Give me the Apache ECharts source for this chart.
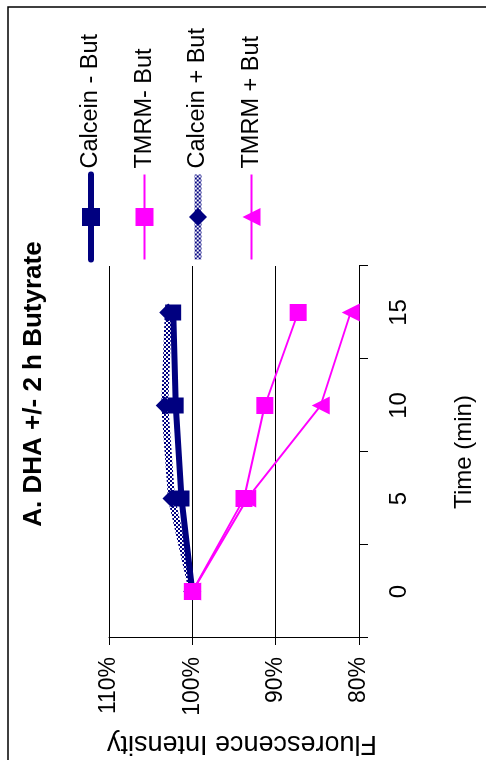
<!DOCTYPE html>
<html><head><meta charset="utf-8">
<script src="https://cdn.jsdelivr.net/npm/echarts@6/dist/echarts.min.js"></script>
<style>
html,body{margin:0;padding:0;width:486px;height:761px;overflow:hidden;background:#fff}
#wrap{position:absolute;left:0;top:760px;width:761px;height:486px;transform-origin:0 0;transform:rotate(-90deg);}
#chart{width:761px;height:486px}
</style></head><body>
<div id="wrap"><div id="chart"></div></div>
<script>
const titleText = 'A. DHA +/- 2 h Butyrate';
const categories = ['0', '5', '10', '15'];
const seriesNames = ['Calcein - But', 'TMRM- But', 'Calcein + But', 'TMRM + But'];
const calceinMinusBut = [100, 101.3, 102.0, 102.3];
const tmrmMinusBut = [100, 93.8, 91.3, 87.3];
const calceinPlusBut = [100, 102.5, 103.3, 102.9];
const tmrmPlusBut = [100, 93.4, 84.6, 81.0];

const NAVY = '#000080', MAG = '#FF00FF';
const FONT = "'Liberation Sans', Arial, sans-serif";

// checkered pattern for the "Calcein + But" line
const pc = document.createElement('canvas');
pc.width = 4; pc.height = 4;
const px = pc.getContext('2d');
px.fillStyle = '#ffffff'; px.fillRect(0, 0, 4, 4);
px.fillStyle = NAVY; px.fillRect(0, 0, 2, 2); px.fillRect(2, 2, 2, 2);
const checker = { image: pc, repeat: 'repeat' };

const lineWidths = [6, 2, 7, 2];

const chart = echarts.init(document.getElementById('chart'), null, { renderer: 'canvas' });
chart.setOption({
  animation: false,
  backgroundColor: '#fff',
  graphic: [
    { type: 'rect', shape: { x: -10, y: 8, width: 763, height: 500 }, style: { fill: 'none', stroke: '#000', lineWidth: 1.5 }, silent: true },
    { type: 'text', x: 376, y: 21, style: { text: titleText, font: "bold 26px 'Liberation Sans', Arial, sans-serif", fill: '#000', textAlign: 'center', textVerticalAlign: 'top' }, silent: true }
  ],
  legend: {
    orient: 'vertical', left: 497, top: 79, padding: 0,
    itemWidth: 85, itemHeight: 22.5, itemGap: 29.5,
    data: seriesNames.map((n, i) => ({ name: n, lineStyle: { width: lineWidths[i] } })),
    textStyle: { fontFamily: FONT, fontSize: 23.5, color: '#000', padding: [0, 0, 0, 1] },
    selectedMode: false
  },
  grid: { left: 122, top: 109, width: 372, height: 250, containLabel: false },
  xAxis: {
    type: 'category', data: categories, boundaryGap: true,
    axisLine: { lineStyle: { color: '#000', width: 1 } },
    axisTick: { show: true, interval: 0, length: 9, lineStyle: { color: '#000' } },
    axisLabel: { fontFamily: FONT, fontSize: 24, color: '#000', margin: 28 },
    name: 'Time (min)', nameLocation: 'middle', nameGap: 93,
    nameTextStyle: { fontFamily: FONT, fontSize: 24, color: '#000' }
  },
  yAxis: {
    type: 'value', min: 80, max: 110, interval: 10,
    axisLine: { show: true, lineStyle: { color: '#000', width: 1 } },
    axisTick: { show: true, length: 7, lineStyle: { color: '#000' } },
    axisLabel: { fontFamily: FONT, fontSize: 23, color: '#000', margin: 19, formatter: '{value}%' },
    splitLine: { show: true, lineStyle: { color: '#000', width: 1 } },
    name: 'Fluorescence Intensity', nameLocation: 'middle', nameGap: 92,
    nameTextStyle: { fontFamily: FONT, fontSize: 27, color: '#000', padding: [0, 16, 0, 0] }
  },
  series: [
    { name: seriesNames[2], type: 'line', data: calceinPlusBut, symbol: 'diamond', symbolSize: 18,
      itemStyle: { color: NAVY }, lineStyle: { width: lineWidths[2], color: checker }, emphasis: { disabled: true }, z: 2 },
    { name: seriesNames[0], type: 'line', data: calceinMinusBut, symbol: 'rect', symbolSize: 16,
      itemStyle: { color: NAVY }, lineStyle: { width: lineWidths[0], color: NAVY, cap: 'round' }, emphasis: { disabled: true }, z: 3 },
    { name: seriesNames[1], type: 'line', data: tmrmMinusBut, symbol: 'rect', symbolSize: 17,
      itemStyle: { color: MAG }, lineStyle: { width: lineWidths[1], color: MAG }, emphasis: { disabled: true }, z: 4 },
    { name: seriesNames[3], type: 'line', data: tmrmPlusBut, symbol: 'triangle', symbolSize: 18,
      itemStyle: { color: MAG }, lineStyle: { width: lineWidths[3], color: MAG }, emphasis: { disabled: true }, z: 5 }
  ]
});
</script>
</body></html>
